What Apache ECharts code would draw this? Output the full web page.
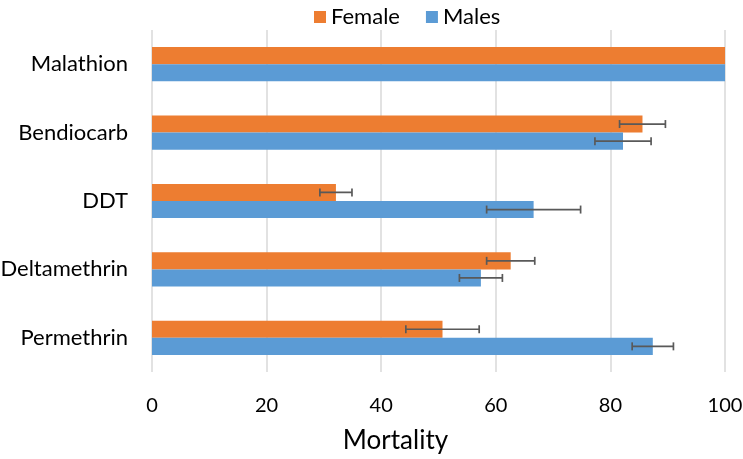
<!DOCTYPE html>
<html><head><meta charset="utf-8">
<script src="https://cdn.jsdelivr.net/npm/echarts@6/dist/echarts.min.js"></script>
<style>html,body{margin:0;padding:0;background:#fff}#c{width:743px;height:459px}</style>
</head><body><div id="c"></div>
<script>
const categories = ['Malathion', 'Bendiocarb', 'DDT', 'Deltamethrin', 'Permethrin'];
const femaleValues = [100, 85.6, 32.1, 62.6, 50.7];
const femaleErrors = [0, 4.0, 2.8, 4.2, 6.4];
const maleValues = [100, 82.2, 66.6, 57.4, 87.4];
const maleErrors = [0, 4.9, 8.2, 3.75, 3.6];
const xTicks = [0, 20, 40, 60, 80, 100];

const FONT = 'Lato';
const chart = echarts.init(document.getElementById('c'));

function errData(vals, errs) {
  return vals.map((v, i) => [i, v - errs[i], v + errs[i], errs[i]]);
}
function errRender(offsetSign) {
  return function (params, api) {
    const idx = api.value(0);
    const err = api.value(3);
    if (!err) return null;
    const lo = api.coord([api.value(1), idx]);
    const hi = api.coord([api.value(2), idx]);
    const band = api.size([0, 1])[1];
    const y = lo[1] + offsetSign * band / 8;
    const h = 4;
    const style = { stroke: '#595959', lineWidth: 1.7 };
    return {
      type: 'group',
      children: [
        { type: 'line', shape: { x1: lo[0], y1: y, x2: hi[0], y2: y }, style },
        { type: 'line', shape: { x1: lo[0], y1: y - h, x2: lo[0], y2: y + h }, style },
        { type: 'line', shape: { x1: hi[0], y1: y - h, x2: hi[0], y2: y + h }, style }
      ]
    };
  };
}

chart.setOption({
  animation: false,
  textStyle: { fontFamily: FONT },
  legend: {
    top: 1, left: 309,
    itemWidth: 12, itemHeight: 12, itemGap: 26,
    icon: 'rect',
    textStyle: { fontSize: 22, color: '#000', fontFamily: FONT },
    data: ['Female', 'Males']
  },
  grid: { left: 152, right: 18, top: 30, bottom: 87, containLabel: false, outerBoundsMode: 'none' },
  xAxis: {
    type: 'value', min: xTicks[0], max: xTicks[xTicks.length - 1], interval: 20,
    name: 'Mortality', nameLocation: 'middle', nameGap: 56,
    nameTextStyle: { fontSize: 26, color: '#000', fontFamily: FONT, padding: [0, 86, 0, 0] },
    axisLine: { show: false }, axisTick: { show: false },
    axisLabel: { fontSize: 20, color: '#000', margin: 24, fontFamily: FONT },
    splitLine: { lineStyle: { color: '#D9D9D9', width: 1.5 } }
  },
  yAxis: {
    type: 'category', data: categories, inverse: true,
    axisLine: { show: false }, axisTick: { show: false },
    axisLabel: { fontSize: 22, color: '#000', margin: 24, fontFamily: FONT }
  },
  series: [
    { name: 'Female', type: 'bar', data: femaleValues, barWidth: '25%', barGap: '0%',
      itemStyle: { color: '#ED7D31' } },
    { name: 'Males', type: 'bar', data: maleValues, barWidth: '25%', barGap: '0%',
      itemStyle: { color: '#5B9BD5' } },
    { type: 'custom', data: errData(femaleValues, femaleErrors), renderItem: errRender(-1),
      encode: { x: [1, 2], y: 0 }, z: 5 },
    { type: 'custom', data: errData(maleValues, maleErrors), renderItem: errRender(1),
      encode: { x: [1, 2], y: 0 }, z: 5 }
  ]
});
</script>
</body></html>
